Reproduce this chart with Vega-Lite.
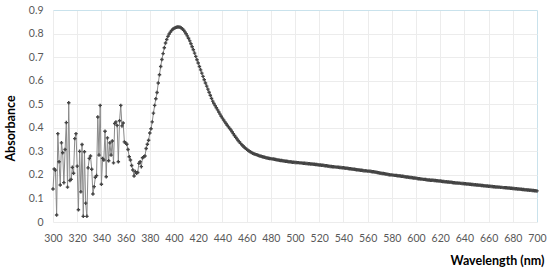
{
  "$schema": "https://vega.github.io/schema/vega-lite/v6.json",
  "width": 484,
  "height": 212,
  "autosize": {"type": "none"},
  "padding": {"left": 53, "top": 10, "right": 13, "bottom": 47},
  "background": "white",
  "config": {
    "view": {"stroke": null},
    "font": "Lato",
    "axis": {
      "labelFont": "Lato",
      "labelFontSize": 10.5,
      "labelColor": "#595959",
      "labelOverlap": false,
      "labelFlush": false,
      "titleFont": "Lato",
      "titleFontSize": 12.5,
      "titleFontWeight": "bold",
      "titleColor": "#000000",
      "domain": false,
      "ticks": false,
      "gridWidth": 1
    }
  },
  "data": {"values": [
{"w":300,"a":0.14},{"w":301,"a":0.225},{"w":302,"a":0.22},{"w":303,"a":0.03},{"w":304,"a":0.375},{"w":305,"a":0.256},{"w":306,"a":0.157},{"w":307,"a":0.336},{"w":308,"a":0.294},{"w":309,"a":0.167},
{"w":310,"a":0.308},{"w":311,"a":0.422},{"w":312,"a":0.148},{"w":313,"a":0.506},{"w":314,"a":0.176},{"w":315,"a":0.181},{"w":316,"a":0.232},{"w":317,"a":0.207},{"w":318,"a":0.354},{"w":319,"a":0.375},
{"w":320,"a":0.237},{"w":321,"a":0.052},{"w":322,"a":0.3},{"w":323,"a":0.128},{"w":324,"a":0.329},{"w":325,"a":0.024},{"w":326,"a":0.298},{"w":327,"a":0.08},{"w":328,"a":0.024},{"w":329,"a":0.23},
{"w":330,"a":0.27},{"w":331,"a":0.28},{"w":332,"a":0.224},{"w":333,"a":0.119},{"w":334,"a":0.15},{"w":335,"a":0.19},{"w":336,"a":0.197},{"w":337,"a":0.446},{"w":338,"a":0.284},{"w":339,"a":0.495},
{"w":340,"a":0.16},{"w":341,"a":0.27},{"w":342,"a":0.263},{"w":343,"a":0.385},{"w":344,"a":0.192},{"w":345,"a":0.357},{"w":346,"a":0.26},{"w":347,"a":0.336},{"w":348,"a":0.284},{"w":349,"a":0.344},
{"w":350,"a":0.251},{"w":351,"a":0.418},{"w":352,"a":0.425},{"w":353,"a":0.41},{"w":354,"a":0.256},{"w":355,"a":0.43},{"w":356,"a":0.495},{"w":357,"a":0.408},{"w":358,"a":0.42},{"w":359,"a":0.34},
{"w":360,"a":0.336},{"w":361,"a":0.33},{"w":362,"a":0.308},{"w":363,"a":0.277},{"w":364,"a":0.263},{"w":365,"a":0.24},{"w":366,"a":0.221},{"w":367,"a":0.195},{"w":368,"a":0.214},{"w":369,"a":0.207},
{"w":370,"a":0.21},{"w":371,"a":0.249},{"w":372,"a":0.256},{"w":373,"a":0.235},{"w":374,"a":0.273},{"w":375,"a":0.277},{"w":376,"a":0.28},{"w":377,"a":0.312},{"w":378,"a":0.33},{"w":379,"a":0.347},
{"w":380,"a":0.378},{"w":381,"a":0.396},{"w":382,"a":0.425},{"w":383,"a":0.462},{"w":384,"a":0.495},{"w":385,"a":0.523},{"w":386,"a":0.55},{"w":387,"a":0.59},{"w":388,"a":0.625},{"w":389,"a":0.66},
{"w":390,"a":0.69},{"w":391,"a":0.715},{"w":392,"a":0.74},{"w":393,"a":0.76},{"w":394,"a":0.775},{"w":395,"a":0.788},{"w":396,"a":0.798},{"w":397,"a":0.806},{"w":398,"a":0.813},{"w":399,"a":0.818},
{"w":400,"a":0.822},{"w":401,"a":0.825},{"w":402,"a":0.827},{"w":403,"a":0.828},{"w":404,"a":0.828},{"w":405,"a":0.827},{"w":406,"a":0.824},{"w":407,"a":0.82},{"w":408,"a":0.814},{"w":409,"a":0.807},
{"w":410,"a":0.799},{"w":411,"a":0.79},{"w":412,"a":0.78},{"w":413,"a":0.769},{"w":414,"a":0.757},{"w":415,"a":0.744},{"w":416,"a":0.731},{"w":417,"a":0.717},{"w":418,"a":0.703},{"w":419,"a":0.689},
{"w":420,"a":0.675},{"w":421,"a":0.66},{"w":422,"a":0.646},{"w":423,"a":0.632},{"w":424,"a":0.618},{"w":425,"a":0.604},{"w":426,"a":0.59},{"w":427,"a":0.577},{"w":428,"a":0.564},{"w":429,"a":0.551},
{"w":430,"a":0.538},{"w":431,"a":0.525},{"w":432,"a":0.513},{"w":433,"a":0.503},{"w":434,"a":0.494},{"w":435,"a":0.485},{"w":436,"a":0.476},{"w":437,"a":0.467},{"w":438,"a":0.458},{"w":439,"a":0.449},
{"w":440,"a":0.441},{"w":441,"a":0.433},{"w":442,"a":0.425},{"w":443,"a":0.418},{"w":444,"a":0.411},{"w":445,"a":0.404},{"w":446,"a":0.397},{"w":447,"a":0.391},{"w":448,"a":0.383},{"w":449,"a":0.375},
{"w":450,"a":0.367},{"w":451,"a":0.36},{"w":452,"a":0.353},{"w":453,"a":0.346},{"w":454,"a":0.34},{"w":455,"a":0.334},{"w":456,"a":0.328},{"w":457,"a":0.323},{"w":458,"a":0.318},{"w":459,"a":0.313},
{"w":460,"a":0.309},{"w":461,"a":0.305},{"w":462,"a":0.301},{"w":463,"a":0.298},{"w":464,"a":0.295},{"w":465,"a":0.292},{"w":466,"a":0.29},{"w":467,"a":0.288},{"w":468,"a":0.286},{"w":469,"a":0.284},
{"w":470,"a":0.282},{"w":471,"a":0.28},{"w":472,"a":0.279},{"w":473,"a":0.277},{"w":474,"a":0.276},{"w":475,"a":0.275},{"w":476,"a":0.273},{"w":477,"a":0.272},{"w":478,"a":0.271},{"w":479,"a":0.27},
{"w":480,"a":0.269},{"w":481,"a":0.268},{"w":482,"a":0.267},{"w":483,"a":0.266},{"w":484,"a":0.265},{"w":485,"a":0.264},{"w":486,"a":0.263},{"w":487,"a":0.262},{"w":488,"a":0.261},{"w":489,"a":0.261},
{"w":490,"a":0.26},{"w":491,"a":0.259},{"w":492,"a":0.258},{"w":493,"a":0.258},{"w":494,"a":0.257},{"w":495,"a":0.256},{"w":496,"a":0.256},{"w":497,"a":0.255},{"w":498,"a":0.254},{"w":499,"a":0.254},
{"w":500,"a":0.253},{"w":501,"a":0.253},{"w":502,"a":0.252},{"w":503,"a":0.252},{"w":504,"a":0.251},{"w":505,"a":0.251},{"w":506,"a":0.25},{"w":507,"a":0.249},{"w":508,"a":0.249},{"w":509,"a":0.248},
{"w":510,"a":0.248},{"w":511,"a":0.247},{"w":512,"a":0.247},{"w":513,"a":0.246},{"w":514,"a":0.246},{"w":515,"a":0.245},{"w":516,"a":0.245},{"w":517,"a":0.244},{"w":518,"a":0.244},{"w":519,"a":0.243},
{"w":520,"a":0.242},{"w":521,"a":0.242},{"w":522,"a":0.241},{"w":523,"a":0.241},{"w":524,"a":0.24},{"w":525,"a":0.239},{"w":526,"a":0.239},{"w":527,"a":0.238},{"w":528,"a":0.237},{"w":529,"a":0.236},
{"w":530,"a":0.236},{"w":531,"a":0.235},{"w":532,"a":0.235},{"w":533,"a":0.234},{"w":534,"a":0.233},{"w":535,"a":0.233},{"w":536,"a":0.232},{"w":537,"a":0.231},{"w":538,"a":0.231},{"w":539,"a":0.23},
{"w":540,"a":0.23},{"w":541,"a":0.229},{"w":542,"a":0.228},{"w":543,"a":0.228},{"w":544,"a":0.227},{"w":545,"a":0.226},{"w":546,"a":0.226},{"w":547,"a":0.225},{"w":548,"a":0.224},{"w":549,"a":0.224},
{"w":550,"a":0.223},{"w":551,"a":0.222},{"w":552,"a":0.222},{"w":553,"a":0.221},{"w":554,"a":0.22},{"w":555,"a":0.22},{"w":556,"a":0.219},{"w":557,"a":0.218},{"w":558,"a":0.218},{"w":559,"a":0.217},
{"w":560,"a":0.216},{"w":561,"a":0.216},{"w":562,"a":0.215},{"w":563,"a":0.214},{"w":564,"a":0.213},{"w":565,"a":0.213},{"w":566,"a":0.212},{"w":567,"a":0.211},{"w":568,"a":0.21},{"w":569,"a":0.209},
{"w":570,"a":0.208},{"w":571,"a":0.207},{"w":572,"a":0.206},{"w":573,"a":0.206},{"w":574,"a":0.205},{"w":575,"a":0.204},{"w":576,"a":0.203},{"w":577,"a":0.202},{"w":578,"a":0.201},{"w":579,"a":0.2},
{"w":580,"a":0.2},{"w":581,"a":0.199},{"w":582,"a":0.198},{"w":583,"a":0.198},{"w":584,"a":0.197},{"w":585,"a":0.196},{"w":586,"a":0.196},{"w":587,"a":0.195},{"w":588,"a":0.194},{"w":589,"a":0.194},
{"w":590,"a":0.193},{"w":591,"a":0.192},{"w":592,"a":0.191},{"w":593,"a":0.191},{"w":594,"a":0.19},{"w":595,"a":0.189},{"w":596,"a":0.189},{"w":597,"a":0.188},{"w":598,"a":0.187},{"w":599,"a":0.187},
{"w":600,"a":0.186},{"w":601,"a":0.185},{"w":602,"a":0.184},{"w":603,"a":0.184},{"w":604,"a":0.183},{"w":605,"a":0.182},{"w":606,"a":0.181},{"w":607,"a":0.181},{"w":608,"a":0.18},{"w":609,"a":0.179},
{"w":610,"a":0.178},{"w":611,"a":0.178},{"w":612,"a":0.177},{"w":613,"a":0.177},{"w":614,"a":0.177},{"w":615,"a":0.176},{"w":616,"a":0.176},{"w":617,"a":0.175},{"w":618,"a":0.175},{"w":619,"a":0.174},
{"w":620,"a":0.174},{"w":621,"a":0.173},{"w":622,"a":0.172},{"w":623,"a":0.172},{"w":624,"a":0.171},{"w":625,"a":0.171},{"w":626,"a":0.17},{"w":627,"a":0.17},{"w":628,"a":0.169},{"w":629,"a":0.169},
{"w":630,"a":0.168},{"w":631,"a":0.167},{"w":632,"a":0.167},{"w":633,"a":0.166},{"w":634,"a":0.166},{"w":635,"a":0.165},{"w":636,"a":0.165},{"w":637,"a":0.164},{"w":638,"a":0.163},{"w":639,"a":0.163},
{"w":640,"a":0.162},{"w":641,"a":0.162},{"w":642,"a":0.161},{"w":643,"a":0.161},{"w":644,"a":0.16},{"w":645,"a":0.16},{"w":646,"a":0.159},{"w":647,"a":0.159},{"w":648,"a":0.158},{"w":649,"a":0.158},
{"w":650,"a":0.157},{"w":651,"a":0.157},{"w":652,"a":0.156},{"w":653,"a":0.156},{"w":654,"a":0.155},{"w":655,"a":0.155},{"w":656,"a":0.154},{"w":657,"a":0.154},{"w":658,"a":0.153},{"w":659,"a":0.153},
{"w":660,"a":0.152},{"w":661,"a":0.152},{"w":662,"a":0.151},{"w":663,"a":0.151},{"w":664,"a":0.15},{"w":665,"a":0.15},{"w":666,"a":0.149},{"w":667,"a":0.149},{"w":668,"a":0.148},{"w":669,"a":0.148},
{"w":670,"a":0.147},{"w":671,"a":0.147},{"w":672,"a":0.146},{"w":673,"a":0.146},{"w":674,"a":0.145},{"w":675,"a":0.145},{"w":676,"a":0.144},{"w":677,"a":0.144},{"w":678,"a":0.143},{"w":679,"a":0.143},
{"w":680,"a":0.142},{"w":681,"a":0.142},{"w":682,"a":0.141},{"w":683,"a":0.141},{"w":684,"a":0.14},{"w":685,"a":0.14},{"w":686,"a":0.139},{"w":687,"a":0.139},{"w":688,"a":0.138},{"w":689,"a":0.138},
{"w":690,"a":0.137},{"w":691,"a":0.137},{"w":692,"a":0.136},{"w":693,"a":0.136},{"w":694,"a":0.135},{"w":695,"a":0.135},{"w":696,"a":0.134},{"w":697,"a":0.134},{"w":698,"a":0.133},{"w":699,"a":0.133},
{"w":700,"a":0.132}
  ]},
  "encoding": {
    "x": {
      "field": "w", "type": "quantitative",
      "scale": {"domain": [300, 700], "nice": false, "zero": false},
      "axis": {
        "title": "Wavelength (nm)",
        "values": [300,320,340,360,380,400,420,440,460,480,500,520,540,560,580,600,620,640,660,680,700],
        "labelPadding": 11,
        "gridColor": {"condition": {"test": "datum.value == 700", "value": "#c9e2ec"}, "value": "#ececec"},
        "titleAnchor": "end",
        "titleAlign": "right",
        "titleX": 491,
        "titleY": 38,
        "titleBaseline": "middle"
      }
    },
    "y": {
      "field": "a", "type": "quantitative",
      "scale": {"domain": [0, 0.9], "nice": false},
      "axis": {
        "title": "Absorbance",
        "values": [0,0.1,0.2,0.3,0.4,0.5,0.6,0.7,0.8,0.9],
        "labelPadding": 10,
        "labelExpr": "datum.value == 0 ? '0' : format(datum.value, '.1f')",
        "gridColor": {"condition": {"test": "datum.value >= 0.89", "value": "#c9e2ec"}, "value": "#ececec"},
        "titleAngle": 270,
        "titleX": -43,
        "titleY": 118,
        "titleBaseline": "middle",
        "titleAlign": "center"
      }
    }
  },
  "layer": [
    {"mark": {"type": "line", "color": "#8a8a8a", "strokeWidth": 1}},
    {"mark": {"type": "point", "shape": "cross", "filled": true, "size": 12, "color": "#444444", "opacity": 1}}
  ]
}
